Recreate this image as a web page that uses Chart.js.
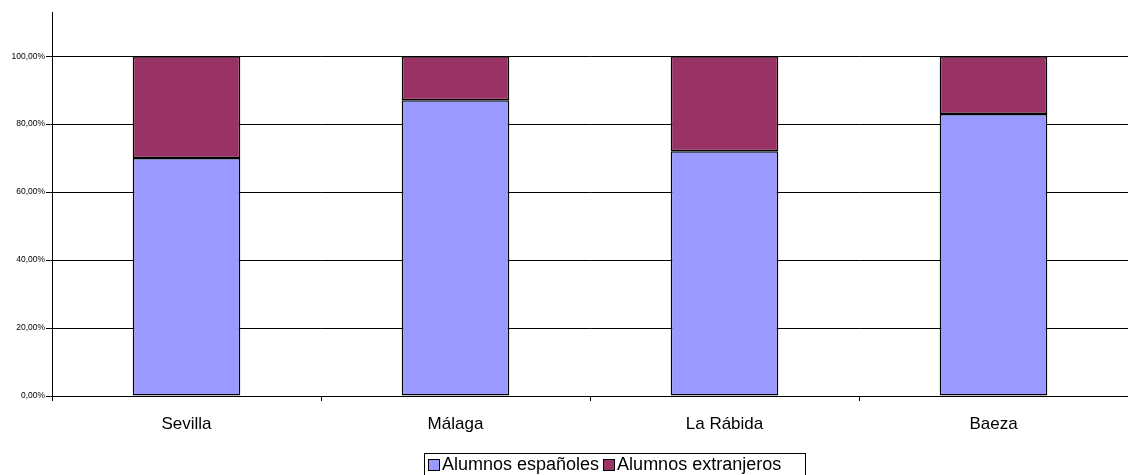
<!DOCTYPE html>
<html>
<head>
<meta charset="utf-8">
<script src="https://cdn.jsdelivr.net/npm/chart.js@4/dist/chart.umd.min.js"></script>
<style>
  html, body { margin: 0; padding: 0; background: #fff; }
  #wrap { position: relative; width: 1128px; height: 475px; }
  #leyenda {
    position: absolute; left: 424px; top: 453px; width: 382px; height: 22px;
    box-sizing: border-box; border: 1px solid #000; border-bottom: none;
    padding: 0 0 0 3px; display: flex; align-items: center;
    font-family: "Liberation Sans", Arial, sans-serif; font-size: 18px;
    white-space: nowrap; color: #000;
  }
  #leyenda .item { display: flex; align-items: center; margin-right: 4px; }
  #leyenda span.caja {
    display: inline-block; width: 10px; height: 10px; border: 1.5px solid #000;
    margin-right: 2px;
  }
</style>
</head>
<body>
<div id="wrap">
  <canvas id="grafico" width="1128" height="475"></canvas>
  <div id="leyenda"></div>
</div>
<script>
// datos del gráfico
const sedes = ['Sevilla', 'Málaga', 'La Rábida', 'Baeza'];
const espanoles = [0.70, 0.87, 0.72, 0.83];
const extranjeros = [0.30, 0.13, 0.28, 0.17];
const marcasY = [0, 0.2, 0.4, 0.6, 0.8, 1.0];
const nombres = ['Alumnos españoles', 'Alumnos extranjeros'];
const colores = ['#9999FF', '#993366'];

(function() {
    const fuente = '"Liberation Sans", Arial, sans-serif';

    function formatoPct(v) {
        return (v * 100).toFixed(2).replace('.', ',') + '%';
    }

    const ctx = document.getElementById('grafico');
    new Chart(ctx, {
        type: 'bar',
        data: {
            labels: sedes,
            datasets: [
                { label: nombres[0], data: espanoles, backgroundColor: colores[0], borderColor: '#000', borderWidth: 1.5, borderSkipped: false },
                { label: nombres[1], data: extranjeros, backgroundColor: colores[1], borderColor: '#000', borderWidth: 1.5, borderSkipped: false }
            ]
        },
        options: {
            responsive: false,
            animation: false,
            layout: { padding: { top: 12, right: 0, bottom: 0, left: 0 } },
            plugins: { legend: { display: false }, tooltip: { enabled: false } },
            datasets: { bar: { categoryPercentage: 1.0, barPercentage: 0.4 } },
            scales: {
                x: {
                    stacked: true,
                    offset: true,
                    grid: { offset: true, drawOnChartArea: false, color: '#000', tickLength: 5 },
                    border: { color: '#000', width: 1 },
                    ticks: { color: '#000', font: { family: fuente, size: 17 }, padding: 13 },
                    afterFit: function(s) { s.height = 79; }
                },
                y: {
                    stacked: true,
                    min: 0,
                    max: 1.13,
                    afterBuildTicks: function(s) { s.ticks = marcasY.map(v => ({ value: v })); },
                    grid: { color: '#000', lineWidth: 1, tickLength: 6 },
                    border: { color: '#000', width: 1 },
                    ticks: { color: '#000', font: { family: fuente, size: 8.5 }, padding: 1, callback: v => formatoPct(v) },
                    afterFit: function(s) { s.width = 52; }
                }
            }
        }
    });

    const ley = document.getElementById('leyenda');
    ley.innerHTML = nombres.map((n, i) =>
        '<span class="item"><span class="caja" style="background:' + colores[i] + '"></span>' + n + '</span>'
    ).join('');
})();
</script>
</body>
</html>
